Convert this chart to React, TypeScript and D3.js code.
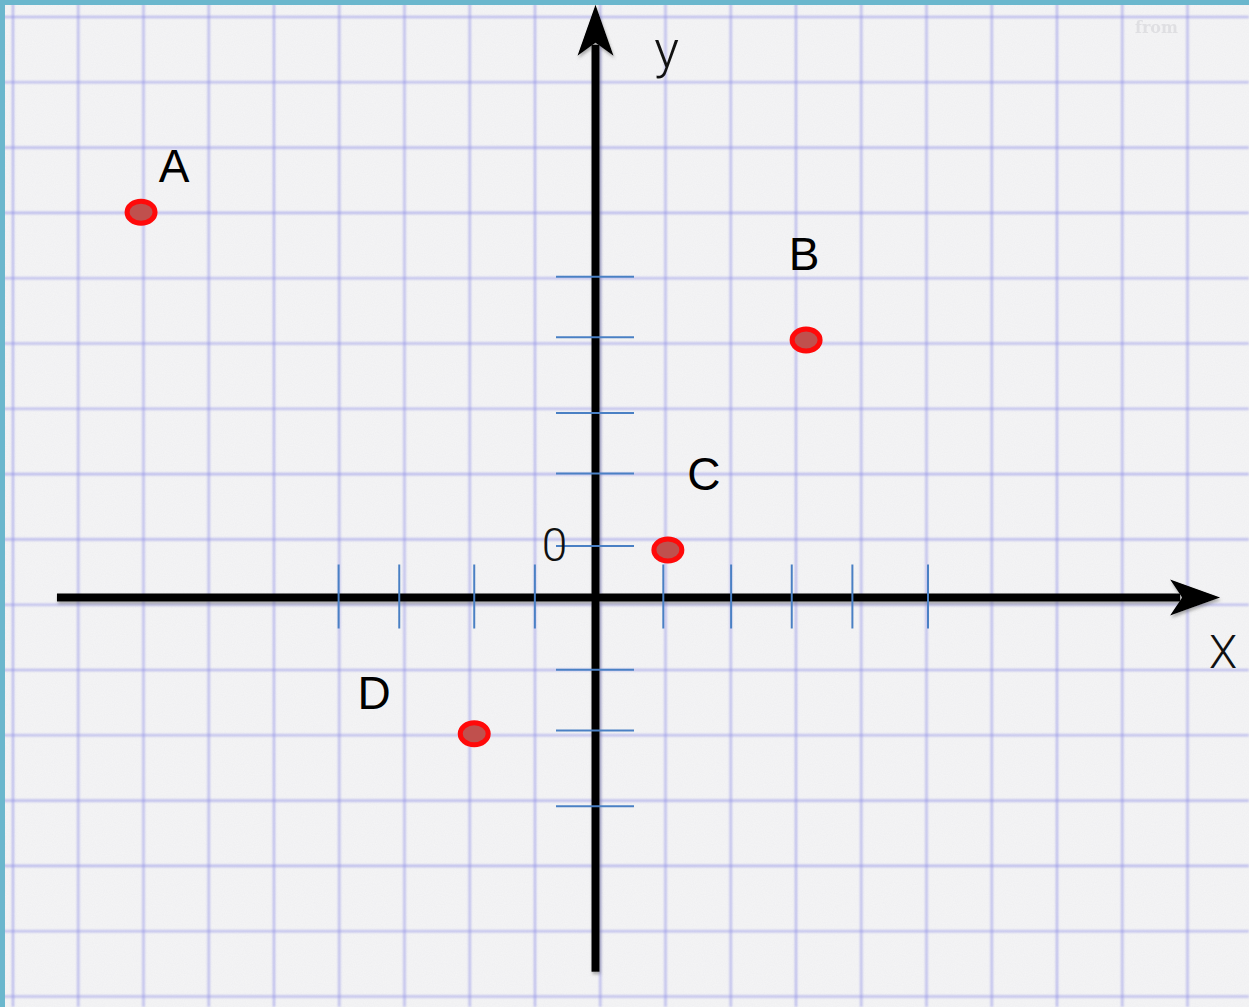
import React, { useEffect } from "react";
import * as d3 from "d3";

// point names and coordinates, in grid units
const pointNames = ["A", "B", "C", "D"];
const pointX = [-6.97, 3.23, 1.11, -1.86];
const pointY = [5.91, 3.95, 0.73, -2.09];

// hand-drawn tick marks, in grid units
const xTicks = [-3.94, -3.01, -1.86, -0.93, 1.04, 2.08, 3.01, 3.94, 5.1];
const yTicks = [4.92, 3.99, 2.83, 1.9, 0.79, -1.11, -2.04, -3.2];
const zeroLabel = "0";

// axis extents (tail, tip)
const xAxisExtent = [-8.26, 9.58];
const yAxisExtent = [-5.74, 9.09];
const axisNames = ["X", "y"];

const W = 1249;
const H = 1007;
const unit = 65.2;
const origin = { x: 595.5, y: 597.5 };

const labelOffset: Record<string, [number, number]> = {
  A: [33, -30],
  B: [-2, -70],
  C: [36, -60],
  D: [-100, -25],
};

const App = () => {
  useEffect(() => {
    document.body.style.margin = "0";
  }, []);

  const x = d3
    .scaleLinear()
    .domain([0, 1])
    .range([origin.x, origin.x + unit]);
  const y = d3
    .scaleLinear()
    .domain([0, 1])
    .range([origin.y, origin.y - unit]);

  const gridX = d3.range(13, W, 65.25);
  const gridY = d3.range(17, H, 65.3);

  const gx0 = x(xAxisExtent[0]);
  const gx1 = x(xAxisExtent[1]);
  const gy0 = y(yAxisExtent[0]);
  const gy1 = y(yAxisExtent[1]);

  const xArrow = `M${gx1},${origin.y} L${gx1 - 50},${origin.y - 18} L${gx1 - 38},${origin.y} L${gx1 - 50},${origin.y + 18} Z`;
  const yArrow = `M${origin.x},${gy1} L${origin.x + 18},${gy1 + 51} L${origin.x},${gy1 + 38} L${origin.x - 18},${gy1 + 51} Z`;

  const tickColor = "#4a80c4";
  const thin = "Roboto, 'Liberation Sans', sans-serif";

  return (
    <svg width={W} height={H} style={{ display: "block" }}>
      <defs>
        <filter id="paper" x="0" y="0" width="100%" height="100%">
          <feTurbulence type="fractalNoise" baseFrequency="0.9" numOctaves="2" seed="3" />
          <feColorMatrix
            type="matrix"
            values="0 0 0 0 0.55  0 0 0 0 0.55  0 0 0 0 0.6  0 0 0 0.14 0"
          />
          <feComposite in2="SourceGraphic" operator="over" />
        </filter>
        <filter id="shadow" x="-5%" y="-5%" width="110%" height="110%">
          <feDropShadow dx="1" dy="2.5" stdDeviation="1.5" floodColor="#555" floodOpacity="0.45" />
        </filter>
        <filter id="soft">
          <feGaussianBlur stdDeviation="0.8" />
        </filter>
      </defs>

      <rect width={W} height={H} fill="#f5f5f6" />
      <rect width={W} height={H} fill="#f5f5f6" filter="url(#paper)" />

      <g stroke="#8c8ce6" strokeOpacity={0.6} strokeWidth={2.1} filter="url(#soft)">
        {gridX.map((gx, i) => (
          <line key={"gx" + i} x1={gx} x2={gx} y1={0} y2={H} />
        ))}
        {gridY.map((gy, i) => (
          <line key={"gy" + i} x1={0} x2={W} y1={gy} y2={gy} />
        ))}
      </g>

      <text
        x={1135}
        y={33}
        fontFamily="'DejaVu Serif', serif"
        fontWeight="bold"
        fontSize={16}
        fill="#d8d8dc"
        opacity={0.7}
      >
        from
      </text>

      <g filter="url(#shadow)">
        <line x1={gx0} x2={gx1 - 40} y1={origin.y} y2={origin.y} stroke="#000" strokeWidth={8} />
        <path d={xArrow} fill="#000" />
        <line x1={origin.x} x2={origin.x} y1={gy0} y2={gy1 + 40} stroke="#000" strokeWidth={8} />
        <path d={yArrow} fill="#000" />
      </g>

      <g stroke={tickColor} strokeWidth={2}>
        {xTicks.map((t, i) => (
          <line key={"xt" + i} x1={x(t)} x2={x(t)} y1={origin.y - 33} y2={origin.y + 31} />
        ))}
        {yTicks.map((t, i) => (
          <line key={"yt" + i} x1={origin.x - 39.5} x2={origin.x + 38.5} y1={y(t)} y2={y(t)} />
        ))}
      </g>

      <text
        x={origin.x - 41}
        y={y(yTicks[4]) + 15}
        textAnchor="middle"
        fontFamily={thin}
        fontWeight={300}
        fontSize={46}
        fill="#111"
      >
        {zeroLabel}
      </text>

      <text
        x={gx1 + 3}
        y={origin.y + 70}
        textAnchor="middle"
        fontFamily={thin}
        fontWeight={300}
        fontSize={46}
        fill="#111"
      >
        {axisNames[0]}
      </text>
      <text
        x={origin.x + 71}
        y={gy1 + 62}
        textAnchor="middle"
        fontFamily={thin}
        fontWeight={300}
        fontSize={52}
        fill="#111"
      >
        {axisNames[1]}
      </text>

      {pointNames.map((name, i) => {
        const px = x(pointX[i]);
        const py = y(pointY[i]);
        const [dx, dy] = labelOffset[name];
        return (
          <g key={name}>
            <ellipse cx={px} cy={py} rx={14} ry={11} fill="#c0504d" stroke="#ff0a0a" strokeWidth={5} />
            <text
              x={px + dx}
              y={py + dy}
              textAnchor="middle"
              fontFamily="'Liberation Sans', Arial, sans-serif"
              fontSize={46}
              fill="#000"
            >
              {name}
            </text>
          </g>
        );
      })}

      <rect x={0} y={0} width={W} height={5} fill="#6bb7cd" />
      <rect x={0} y={0} width={5} height={H} fill="#6bb7cd" />
    </svg>
  );
};

export default App;
